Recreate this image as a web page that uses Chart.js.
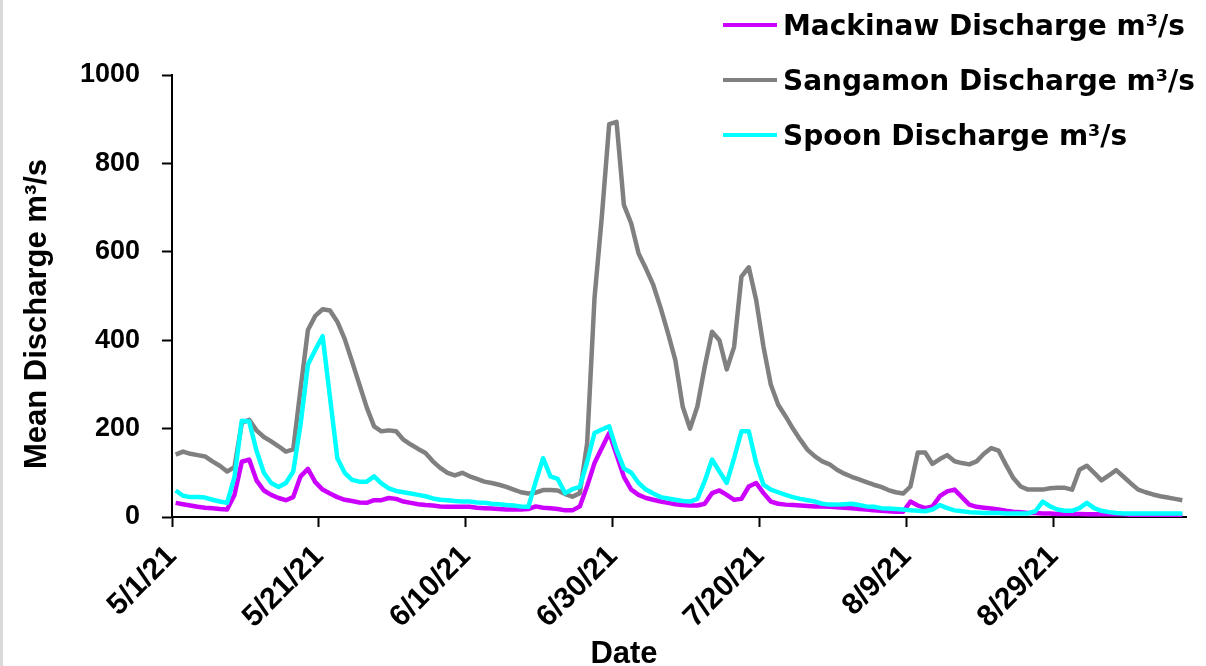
<!DOCTYPE html>
<html>
<head>
<meta charset="utf-8">
<script src="https://cdn.jsdelivr.net/npm/chart.js@4.4.1/dist/chart.umd.min.js"></script>
<style>
  body { margin: 0; background: #fff; }
  #wrap { position: relative; width: 1206px; height: 666px; }
  #wrap::before { content: ''; position: absolute; left: 0; top: 0; width: 3px; height: 100%; background: #d9d9d9; }
</style>
</head>
<body>
<div id="wrap"><canvas id="chart" width="1206" height="666"></canvas></div>
<script>
// daily means, 5/1/21 .. 9/15/21 (138 days)
const mackinaw = [
  32, 29, 26, 23, 21, 20, 18, 17, 50, 125,
  130, 83, 60, 50, 43, 38, 45, 92, 109, 79,
  62, 53, 45, 39, 36, 33, 32, 38, 38, 43,
  41, 35, 32, 29, 27, 26, 24, 23, 23, 23,
  23, 21, 20, 19, 18, 17, 17, 17, 18, 24,
  21, 20, 18, 15, 15, 24, 70, 122, 156, 190,
  141, 91, 62, 50, 43, 39, 35, 32, 29, 27,
  26, 26, 30, 54, 60, 50, 39, 41, 69, 77,
  54, 35, 30, 28, 27, 26, 25, 24, 24, 23,
  22, 21, 20, 18, 17, 15, 14, 13, 12, 12,
  35, 26, 20, 24, 47, 58, 62, 45, 28, 23,
  21, 19, 17, 14, 12, 11, 9, 9, 8, 8,
  7, 7, 7, 7, 6, 6, 6, 6, 6, 6,
  5, 5, 5, 5, 4, 4, 4, 4
];
const sangamon = [
  141, 148, 143, 140, 137, 126, 116, 103, 113, 213,
  220, 196, 181, 171, 160, 148, 153, 290, 423, 455,
  470, 467, 442, 403, 352, 300, 248, 205, 194, 196,
  194, 175, 164, 154, 145, 126, 111, 100, 94, 100,
  92, 86, 80, 77, 73, 68, 62, 56, 53, 55,
  61, 61, 60, 52, 46, 54, 167, 495, 680, 889,
  894, 706, 664, 596, 562, 525, 473, 416, 355, 250,
  200, 250, 340, 419, 400, 334, 385, 544, 565, 491,
  385, 299, 254, 228, 200, 175, 152, 137, 126, 119,
  107, 98, 91, 85, 79, 73, 68, 61, 56, 53,
  69, 146, 146, 120, 131, 140, 126, 122, 119, 126,
  143, 156, 150, 118, 88, 69, 62, 62, 62, 65,
  66, 66, 62, 107, 116, 100, 83, 94, 106, 91,
  76, 62, 56, 51, 47, 44, 41, 38
];
const spoon = [
  60, 48, 45, 45, 44, 39, 35, 32, 90, 218,
  216, 150, 100, 77, 68, 77, 103, 210, 345, 378,
  409, 271, 133, 100, 84, 80, 80, 92, 76, 65,
  59, 56, 53, 50, 47, 42, 39, 38, 36, 35,
  35, 33, 32, 30, 29, 27, 26, 24, 23, 80,
  133, 92, 86, 54, 63, 68, 125, 190, 198, 205,
  152, 110, 100, 77, 62, 53, 45, 42, 39, 36,
  35, 41, 81, 130, 103, 77, 133, 194, 194, 122,
  73, 62, 56, 50, 45, 41, 38, 35, 30, 28,
  28, 29, 30, 27, 24, 23, 20, 19, 18, 17,
  15, 14, 13, 17, 27, 20, 15, 13, 11, 10,
  9, 9, 9, 8, 8, 8, 8, 13, 35, 24,
  17, 14, 14, 20, 32, 20, 14, 11, 9, 8,
  8, 8, 8, 8, 8, 8, 8, 8
];

const seriesNames = ['Mackinaw Discharge m³/s', 'Sangamon Discharge m³/s', 'Spoon Discharge m³/s'];
const seriesColors = ['#cc00ff', '#808080', '#00ffff'];

const tickDays = [0, 20, 40, 60, 80, 100, 120];
const tickLabels = ['5/1/21', '5/21/21', '6/10/21', '6/30/21', '7/20/21', '8/9/21', '8/29/21'];
const yTicks = [0, 200, 400, 600, 800, 1000];

const xTitle = 'Date';
const yTitle = 'Mean Discharge m³/s';

// one point per day, drawn in the middle of its day
function toPoints(values) {
  return values.map((v, i) => ({ x: i + 0.5, y: v }));
}

const overlay = {
  id: 'overlay',
  afterDraw(chart) {
    const ctx = chart.ctx;
    ctx.save();
    // legend, stacked at top right
    chart.data.datasets.forEach((ds, i) => {
      const y = 25 + i * 55;
      ctx.strokeStyle = ds.borderColor;
      ctx.lineWidth = 4;
      ctx.beginPath();
      ctx.moveTo(723, y);
      ctx.lineTo(777, y);
      ctx.stroke();
      ctx.fillStyle = '#000';
      ctx.font = 'bold 28px "DejaVu Sans"';
      ctx.textBaseline = 'alphabetic';
      ctx.textAlign = 'left';
      ctx.fillText(ds.label, 783, y + 10);
    });
    // axis titles
    ctx.font = 'bold 31px "Liberation Sans"';
    ctx.textAlign = 'center';
    ctx.fillText(xTitle, 624, 663);
    ctx.translate(46, 314);
    ctx.rotate(-Math.PI / 2);
    ctx.fillText(yTitle, 0, 0);
    ctx.restore();
  }
};

new Chart(document.getElementById('chart'), {
  type: 'line',
  data: {
    datasets: [mackinaw, sangamon, spoon].map((values, i) => ({
      label: seriesNames[i],
      data: toPoints(values),
      borderColor: seriesColors[i],
      backgroundColor: seriesColors[i],
      borderWidth: 4.5,
      borderJoinStyle: 'round',
      pointRadius: 0,
      tension: 0,
      order: 3 - i
    }))
  },
  options: {
    responsive: false,
    animation: false,
    events: [],
    layout: { padding: { top: 75, right: 20, left: 0, bottom: 0 } },
    plugins: {
      legend: { display: false },
      tooltip: { enabled: false }
    },
    scales: {
      x: {
        type: 'linear',
        min: 0,
        max: 138,
        afterBuildTicks: axis => { axis.ticks = tickDays.map(v => ({ value: v })); },
        afterFit: axis => { axis.height = 149; },
        ticks: {
          callback: (value, index) => tickLabels[index],
          autoSkip: false,
          minRotation: 45,
          maxRotation: 45,
          color: '#000',
          font: { family: 'Liberation Sans', weight: 'bold', size: 30 },
          padding: 12
        },
        grid: { drawOnChartArea: false, drawTicks: true, tickLength: 10, tickWidth: 2, tickColor: '#000' },
        border: { color: '#000', width: 2 }
      },
      y: {
        min: 0,
        max: 1000,
        afterBuildTicks: axis => { axis.ticks = yTicks.map(v => ({ value: v })); },
        afterFit: axis => { axis.width = 172; },
        ticks: {
          callback: value => String(value),
          color: '#000',
          font: { family: 'Liberation Sans', weight: 'bold', size: 27 },
          padding: 22
        },
        grid: { drawOnChartArea: false, drawTicks: true, tickLength: 10, tickWidth: 2, tickColor: '#000' },
        border: { color: '#000', width: 2 }
      }
    }
  },
  plugins: [overlay]
});
</script>
</body>
</html>
